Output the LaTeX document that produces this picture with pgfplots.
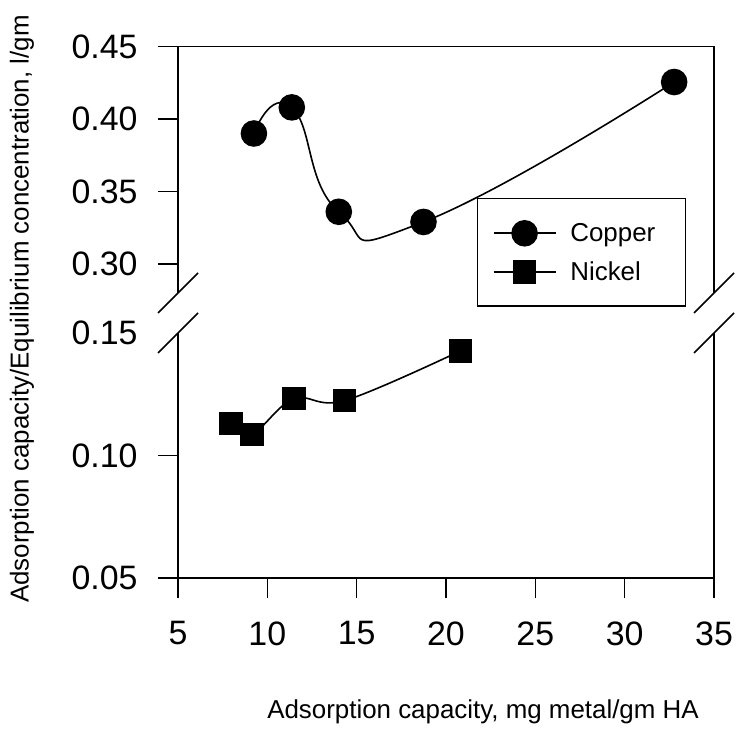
\documentclass[border=0pt]{standalone}
\usepackage{fontspec}
\setmainfont{Liberation Sans}
\usepackage{pgfplots}
\pgfplotsset{compat=1.18}
\begin{document}
\begin{tikzpicture}
\useasboundingbox (-178bp,-164bp) rectangle (559bp,578bp);
\pgfplotsset{
  brk/.style={
    scale only axis, width=536bp, xmin=5, xmax=35,
    axis line style={draw=none},
    tick align=outside, major tick length=20bp,
    ytick pos=left, xtick pos=left,
    tick style={line width=1.4bp, black},
    clip=false,
    ticklabel style={font=\fontsize{34}{38}\selectfont},
    xticklabel style={yshift=-20bp},
    /pgf/number format/assume math mode=true,
    yticklabel style={xshift=-17bp, /pgf/number format/fixed, /pgf/number format/fixed zerofill,
      /pgf/number format/precision=2},
  },
  cu/.style={black, line width=1.6bp, smooth, tension=0.9, mark=*, mark size=12.5bp},
  ni/.style={black, line width=1.6bp, smooth, tension=0.6, mark=square*, mark size=11bp},
}
% lower part
\begin{axis}[brk, name=low, at={(0bp,0bp)}, anchor=south west, height=245bp,
  ymin=0.05, ymax=0.15, ytick={0.05,0.10},
  extra y ticks={0.15}, extra y tick style={major tick style={draw=none}},
  xtick={5,10,...,35}]
\addplot[ni] coordinates {(7.96,0.1130) (9.13,0.1085) (11.48,0.1232) (14.33,0.1224) (20.81,0.1427)};
\draw[line width=1.6bp] (rel axis cs:0,1) -- (rel axis cs:0,0) -- (rel axis cs:1,0) -- (rel axis cs:1,1);
\draw[line width=1.6bp] (rel axis cs:0,1) ++(-20bp,-20bp) -- ++(40bp,40bp);
\draw[line width=1.6bp] (rel axis cs:1,1) ++(-20bp,-20bp) -- ++(40bp,40bp);
\end{axis}
% upper part
\begin{axis}[brk, name=up, at={(0bp,285bp)}, anchor=south west, height=246.5bp,
  ymin=0.28, ymax=0.45, ytick={0.30,0.35,0.40,0.45}, xtick=\empty,
  legend style={at={(0.558,0.385)}, anchor=north west, draw=black, line width=1.4bp,
    font=\fontsize{26}{30}\selectfont, inner xsep=15bp, inner ysep=22bp, row sep=14bp,
    legend cell align=left},
  legend image code/.code={\draw[mark repeat=2,mark phase=2,#1] plot coordinates {(0bp,0bp) (31bp,0bp) (62bp,0bp)};},
  /tikz/every odd column/.append style={column sep=12bp}]
\addplot[cu] coordinates {(9.25,0.390) (11.37,0.408) (14.00,0.336) (18.74,0.329) (32.77,0.4255)};
\addlegendentry{Copper\hspace*{13bp}}
\addlegendimage{ni}
\addlegendentry{Nickel\hspace*{13bp}}
\draw[line width=1.6bp] (rel axis cs:0,0) -- (rel axis cs:0,1) -- (rel axis cs:1,1) -- (rel axis cs:1,0);
\draw[line width=1.6bp] (rel axis cs:0,0) ++(-20bp,-20bp) -- ++(40bp,40bp);
\draw[line width=1.6bp] (rel axis cs:1,0) ++(-20bp,-20bp) -- ++(40bp,40bp);
\end{axis}
\node[rotate=90, font=\fontsize{26}{30}\selectfont] at (-156bp,269bp) {Adsorption capacity/Equilibrium concentration, l/gm};
\node[font=\fontsize{26}{30}\selectfont] at (305bp,-134bp) {Adsorption capacity, mg metal/gm HA};
\end{tikzpicture}
\end{document}
